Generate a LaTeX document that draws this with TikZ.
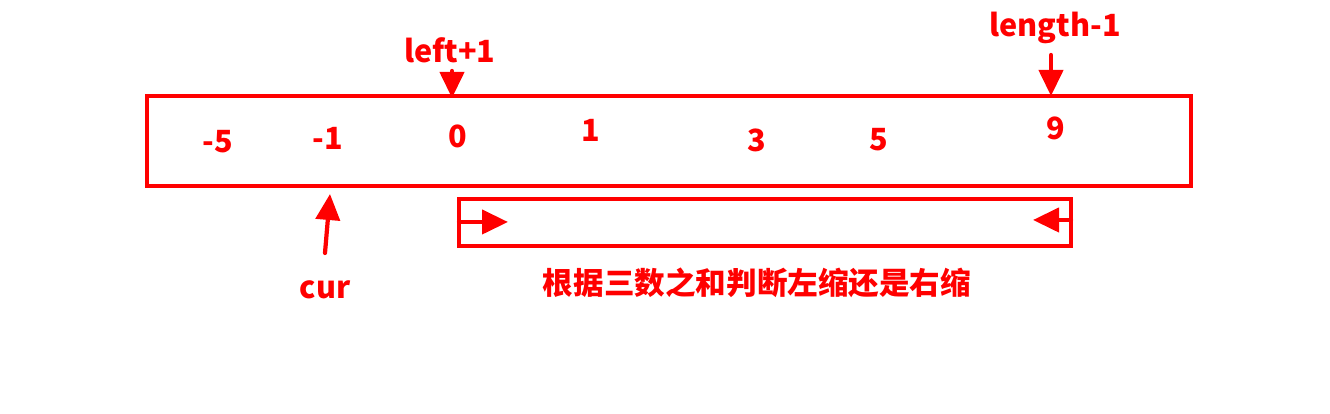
\documentclass[tikz,border=0pt]{standalone}
\usepackage{fontspec}
\setmainfont{Noto Sans CJK SC}
\usepackage{tikz}
\usetikzlibrary{arrows.meta}
\definecolor{rojo}{RGB}{255,0,0}
\tikzstyle{none}=[inner sep=0pt]
\tikzstyle{numero}=[text=rojo,font=\fontsize{8.7}{8.7}\selectfont\bfseries,inner sep=0pt]
\tikzstyle{etiqueta}=[text=rojo,font=\fontsize{8.7}{8.7}\selectfont\bfseries,inner sep=0pt]
\tikzstyle{caja}=[draw=rojo,line width=1.2pt]
\tikzstyle{line}=[draw=rojo,line width=1.2pt,line cap=round,-{Triangle[length=2.6mm,width=2.4mm]}]

\begin{document}
\begin{tikzpicture}
		\useasboundingbox (0,0) rectangle (13.3,-4.14);
		% arreglo
		\node [style=none] (arr_sw) at (1.47,-1.86) {};
		\node [style=none] (arr_ne) at (11.91,-0.96) {};
		\path [style=caja] (arr_sw.center) rectangle (arr_ne.center);
		\node [style=numero] (n1) at (2.18,-1.42) {-5};
		\node [style=numero] (n2) at (3.28,-1.38) {-1};
		\node [style=numero] (n3) at (4.58,-1.36) {0};
		\node [style=numero] (n4) at (5.91,-1.30) {1};
		\node [style=numero] (n5) at (7.57,-1.40) {3};
		\node [style=numero] (n6) at (8.79,-1.40) {5};
		\node [style=numero] (n7) at (10.56,-1.28) {9};
		% punteros
		\node [style=etiqueta] (left) at (4.50,-0.50) {left+1};
		\node [style=etiqueta] (length) at (10.55,-0.28) {length-1};
		\node [style=etiqueta] (cur) at (3.25,-2.90) {cur};
		\node [style=none] (left_ini) at (4.52,-0.71) {};
		\node [style=none] (left_fin) at (4.52,-0.98) {};
		\node [style=none] (length_ini) at (10.51,-0.55) {};
		\node [style=none] (length_fin) at (10.51,-0.96) {};
		\node [style=none] (cur_ini) at (3.25,-2.53) {};
		\node [style=none] (cur_fin) at (3.30,-1.94) {};
		\path [style=line] (left_ini.center) -- (left_fin.center);
		\path [style=line] (length_ini.center) -- (length_fin.center);
		\path [style=line] (cur_ini.center) -- (cur_fin.center);
		% rango
		\node [style=none] (rango_sw) at (4.59,-2.46) {};
		\node [style=none] (rango_ne) at (10.71,-1.99) {};
		\path [style=caja] (rango_sw.center) rectangle (rango_ne.center);
		\node [style=none] (izq_ini) at (4.59,-2.22) {};
		\node [style=none] (izq_fin) at (5.08,-2.22) {};
		\node [style=none] (der_ini) at (10.71,-2.20) {};
		\node [style=none] (der_fin) at (10.33,-2.20) {};
		\path [style=line] (izq_ini.center) -- (izq_fin.center);
		\path [style=line] (der_ini.center) -- (der_fin.center);
		\node [style=etiqueta] (nota) at (7.57,-2.83) {根据三数之和判断左缩还是右缩};
\end{tikzpicture}
\end{document}
